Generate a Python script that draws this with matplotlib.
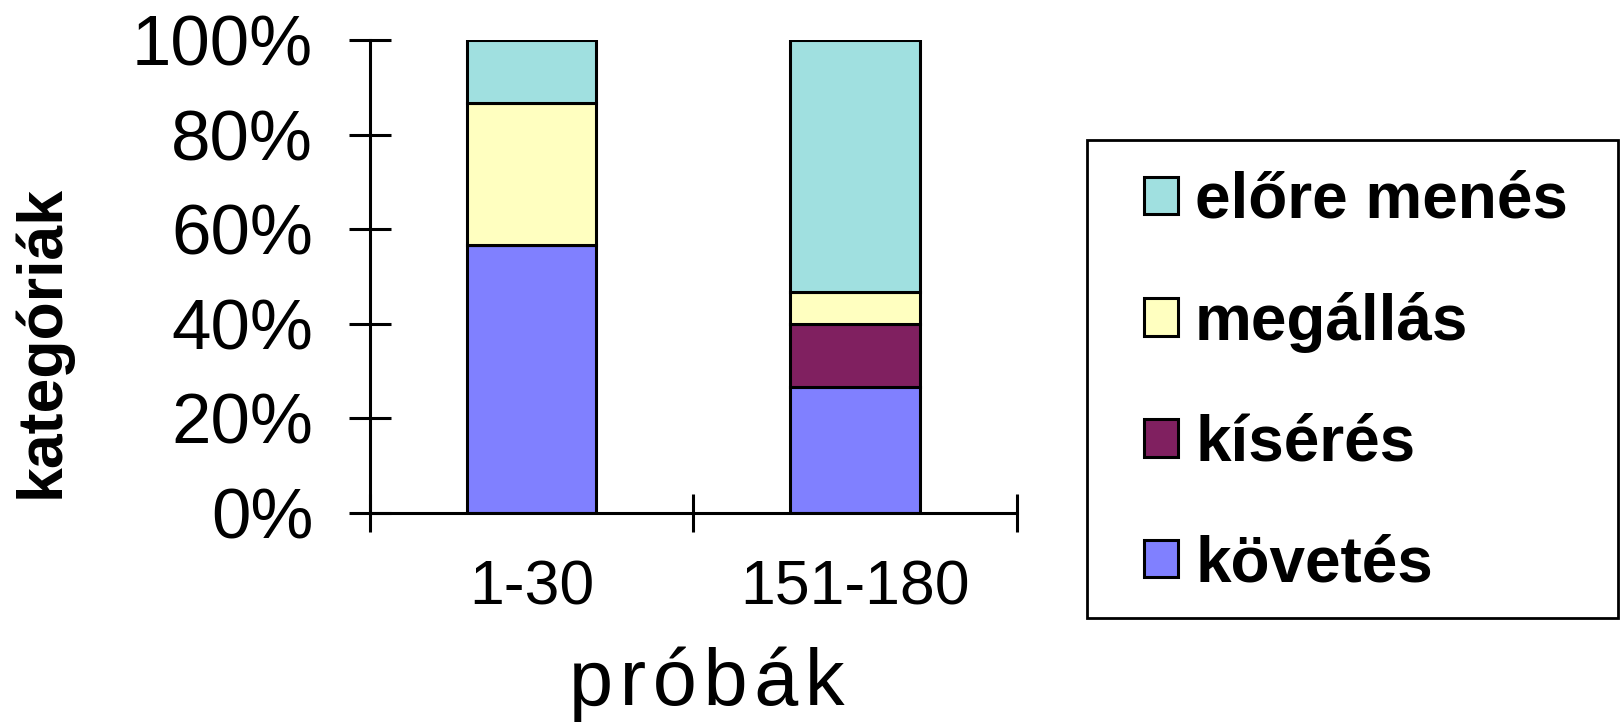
import matplotlib
matplotlib.use("Agg")
import matplotlib.pyplot as plt
from matplotlib.patches import Rectangle
from matplotlib.ticker import PercentFormatter

plt.rcParams['font.family'] = ['Liberation Sans', 'DejaVu Sans']

categories = ['1-30', '151-180']
series_names = ['követés', 'kísérés', 'megállás', 'előre menés']
kovetes = [56.67, 26.67]
kiseres = [0.0, 13.33]
megallas = [30.0, 6.67]
elore_menes = [13.33, 53.33]
colors = ['#8080FF', '#802060', '#FFFFC0', '#A0E0E0']

W, H = 1621, 724
fig = plt.figure(figsize=(W / 100, H / 100), dpi=100)
ax = fig.add_axes([0.2283, 0.2914, 0.399, 0.6534])

x = list(range(len(categories)))
bottom = [0.0] * len(categories)
handles = []
for name, vals, col in zip(series_names, [kovetes, kiseres, megallas, elore_menes], colors):
    b = ax.bar(x, vals, width=0.4, bottom=bottom, color=col,
               edgecolor='black', linewidth=2.2, label=name)
    handles.append(b)
    bottom = [bo + v for bo, v in zip(bottom, vals)]

ax.set_xlim(-0.5, 1.5)
ax.set_ylim(0, 100)
ax.set_yticks([0, 20, 40, 60, 80, 100])
ax.yaxis.set_major_formatter(PercentFormatter(decimals=0))

# category boundary ticks, labels sit on minor ticks at bar centres
ax.set_xticks([-0.5, 0.5, 1.5])
ax.set_xticklabels([])
ax.set_xticks(x, categories, minor=True)
ax.tick_params(axis='x', which='major', direction='inout', length=27, width=2.2)
ax.tick_params(axis='x', which='minor', length=0, pad=33, labelsize=45)
ax.tick_params(axis='y', direction='inout', length=30, width=2.2, pad=26, labelsize=51)

for s in ['top', 'right']:
    ax.spines[s].set_visible(False)
for s in ['left', 'bottom']:
    ax.spines[s].set_linewidth(2.2)

# x axis title is letter-spaced in the original
fig.text(0.436, 0.026, '\u200a'.join('próbák'), ha='center', va='baseline', fontsize=57)
fig.text(0.026, 0.529, 'kategóriák', rotation=90, ha='center', va='center',
         fontsize=45, fontweight='bold')

# legend frame drawn separately so the padding can differ per side
fig.patches.append(Rectangle((1087 / W, 106 / H), 531 / W, 478 / H,
                             transform=fig.transFigure, facecolor='white',
                             edgecolor='black', linewidth=2.0, zorder=0))
leg = fig.legend(handles[::-1], series_names[::-1], loc='upper left',
                 bbox_to_anchor=(1144 / W, 553 / H),
                 prop={'size': 46, 'weight': 'bold'},
                 handlelength=0.53, handleheight=0.53, handletextpad=0.27,
                 labelspacing=0.95, borderpad=0, borderaxespad=0,
                 frameon=False)

fig.savefig('out.png', dpi=100)
